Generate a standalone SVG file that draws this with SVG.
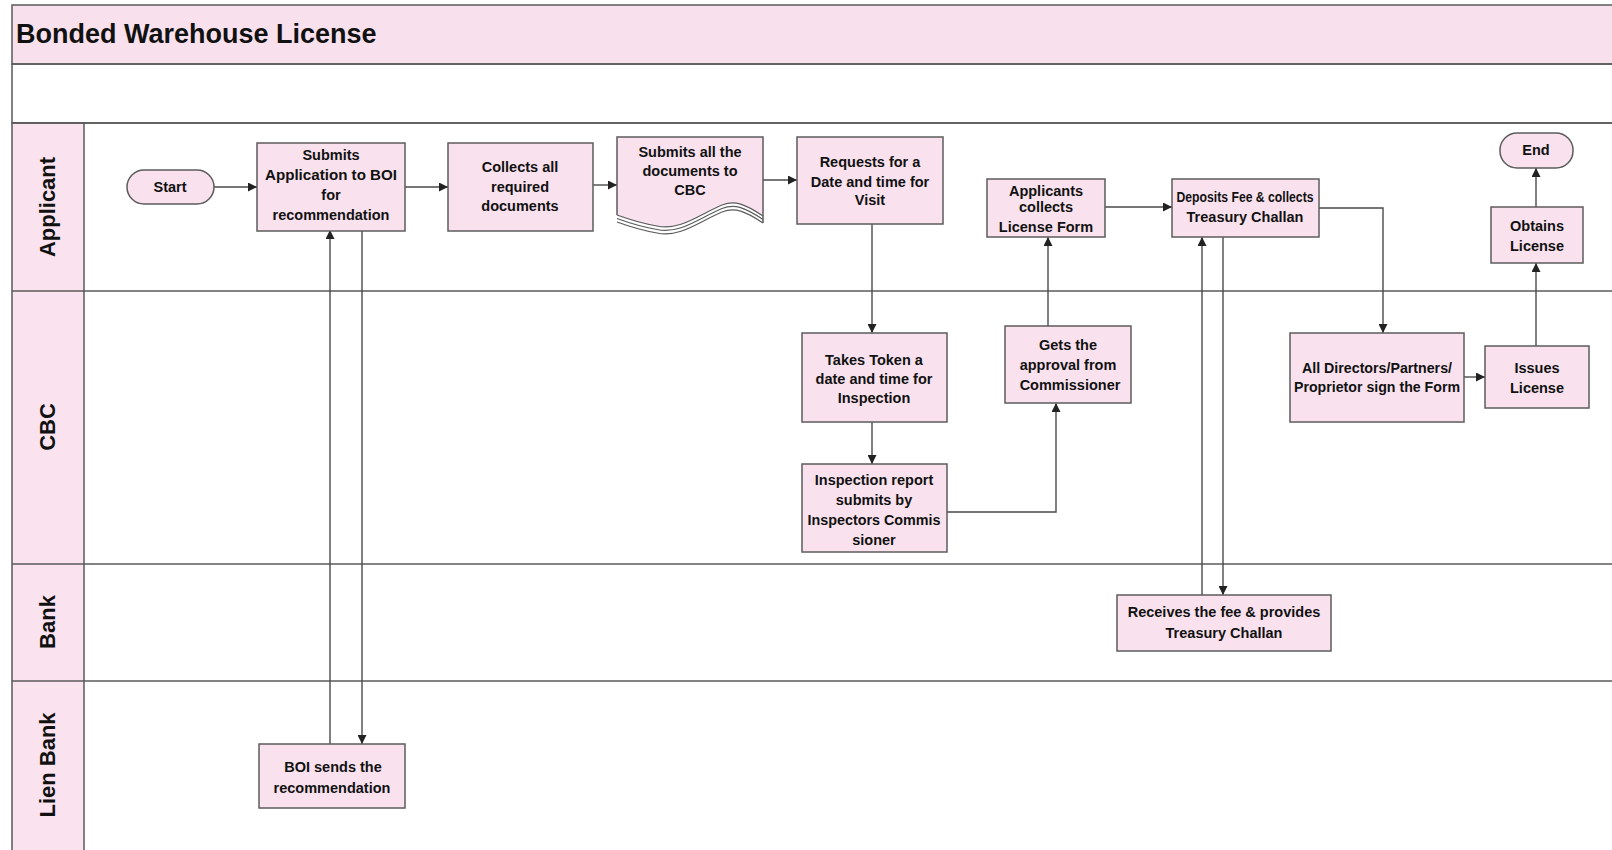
<svg xmlns="http://www.w3.org/2000/svg" width="1612" height="850" viewBox="0 0 1612 850">
<style>
.frame{fill:none;stroke:#5a5a5a;stroke-width:1.5}
.band{fill:#f8e1ed;stroke:#5a5a5a;stroke-width:1.5}
.lanecol{fill:#fae3ef;stroke:#5a5a5a;stroke-width:1.5}
.sep{stroke:#5a5a5a;stroke-width:1.5;fill:none}
.box{fill:#f9e2ee;stroke:#5c5c5c;stroke-width:1.5}
.docfill{fill:#f9e2ee;stroke:none}
.docedge{fill:none;stroke:#5c5c5c;stroke-width:1.5}
.t{font-family:"Liberation Sans",Arial,sans-serif;font-weight:bold;font-size:14.5px;fill:#111;text-anchor:middle}
.lane{font-family:"Liberation Sans",Arial,sans-serif;font-weight:bold;font-size:22px;fill:#111;text-anchor:middle}
.title{font-family:"Liberation Sans",Arial,sans-serif;font-weight:bold;font-size:27px;fill:#111}
.c{fill:none;stroke:#4a4a4a;stroke-width:1.4}
.w{fill:none;stroke:#5c5c5c;stroke-width:1.2}
</style>
<defs>
<marker id="arr" viewBox="0 0 10 10" refX="10" refY="5" markerWidth="9" markerHeight="9" markerUnits="userSpaceOnUse" orient="auto">
<path d="M0,0 L10,5 L0,10 Z" fill="#222"/>
</marker>
</defs>
<rect width="1612" height="850" fill="#ffffff"/>
<g id="frame">
<rect class="band" x="12" y="5" width="1610" height="59"/>
<rect class="frame" x="12" y="64" width="1610" height="59"/>
<rect class="lanecol" x="12" y="123" width="72" height="740"/>
<line class="sep" x1="12" y1="123" x2="1612" y2="123"/>
<line class="sep" x1="12" y1="291" x2="1612" y2="291"/>
<line class="sep" x1="12" y1="564" x2="1612" y2="564"/>
<line class="sep" x1="12" y1="681" x2="1612" y2="681"/>
<text class="title" x="16" y="43">Bonded Warehouse License</text>
<text class="lane" transform="translate(55,207) rotate(-90)">Applicant</text>
<text class="lane" transform="translate(55,427) rotate(-90)">CBC</text>
<text class="lane" transform="translate(55,622) rotate(-90)">Bank</text>
<text class="lane" transform="translate(55,765) rotate(-90)">Lien Bank</text>
</g>
<g id="connectors">
<path class="c" d="M214,187 H257" marker-end="url(#arr)"/>
<path class="c" d="M405,187 H448" marker-end="url(#arr)"/>
<path class="c" d="M593,185 H617" marker-end="url(#arr)"/>
<path class="c" d="M763,180 H797" marker-end="url(#arr)"/>
<path class="c" d="M872,224 V333" marker-end="url(#arr)"/>
<path class="c" d="M872,422 V464" marker-end="url(#arr)"/>
<path class="c" d="M947,512 H1056 V403" marker-end="url(#arr)"/>
<path class="c" d="M1048,326 V237" marker-end="url(#arr)"/>
<path class="c" d="M1105,207 H1172" marker-end="url(#arr)"/>
<path class="c" d="M1223,237 V595" marker-end="url(#arr)"/>
<path class="c" d="M1202,595 V237" marker-end="url(#arr)"/>
<path class="c" d="M1319,208 H1383 V333" marker-end="url(#arr)"/>
<path class="c" d="M1464,377 H1485" marker-end="url(#arr)"/>
<path class="c" d="M1536,346 V263" marker-end="url(#arr)"/>
<path class="c" d="M1536,207 V168" marker-end="url(#arr)"/>
<path class="c" d="M330,744 V230" marker-end="url(#arr)"/>
<path class="c" d="M362,230 V744" marker-end="url(#arr)"/>
</g>
<g id="start">
<rect class="box" x="127" y="170" width="87" height="34" rx="17"/>
<text class="t" x="170" y="192">Start</text>
</g>
<g id="submits-application">
<rect class="box" x="257" y="143" width="148" height="88"/>
<text class="t" x="331" y="160">Submits</text>
<text class="t" x="331" y="180" textLength="132" lengthAdjust="spacingAndGlyphs">Application to BOI</text>
<text class="t" x="331" y="200">for</text>
<text class="t" x="331" y="220">recommendation</text>
</g>
<g id="collects-documents">
<rect class="box" x="448" y="143" width="145" height="88"/>
<text class="t" x="520" y="172">Collects all</text>
<text class="t" x="520" y="192">required</text>
<text class="t" x="520" y="211">documents</text>
</g>
<g id="submits-documents">
<path class="docfill" d="M617,137 H763 V216 C745,204 735,200 722,205 C700,214 680,231 657,226 C640,223 628,219 617,215 Z"/>
<path class="docedge" d="M617,215 V137 H763 V223"/>
<path class="w" d="M617,215 C628,219 640,223 657,226 C680,231 700,214 722,205 C735,200 745,204 763,216"/>
<path class="w" d="M617,218.5 C628,222.5 640,226.5 657,229.5 C680,234.5 700,217.5 722,208.5 C735,203.5 745,207.5 763,219.5"/>
<path class="w" d="M617,222 C628,226 640,230 657,233 C680,238 700,221 722,212 C735,207 745,211 763,223"/>
<text class="t" x="690" y="157">Submits all the</text>
<text class="t" x="690" y="176">documents to</text>
<text class="t" x="690" y="195">CBC</text>
</g>
<g id="requests-date">
<rect class="box" x="797" y="137" width="146" height="87"/>
<text class="t" x="870" y="167">Requests for a</text>
<text class="t" x="870" y="187">Date and time for</text>
<text class="t" x="870" y="205">Visit</text>
</g>
<g id="applicants-collects">
<rect class="box" x="987" y="179" width="118" height="58"/>
<text class="t" x="1046" y="196">Applicants</text>
<text class="t" x="1046" y="212">collects</text>
<text class="t" x="1046" y="232">License Form</text>
</g>
<g id="deposits-fee">
<rect class="box" x="1172" y="179" width="147" height="58"/>
<text class="t" x="1245" y="202" textLength="137" lengthAdjust="spacingAndGlyphs">Deposits Fee &amp; collects</text>
<text class="t" x="1245" y="222">Treasury Challan</text>
</g>
<g id="end">
<rect class="box" x="1500" y="133" width="73" height="35" rx="17"/>
<text class="t" x="1536" y="155">End</text>
</g>
<g id="obtains-license">
<rect class="box" x="1491" y="207" width="92" height="56"/>
<text class="t" x="1537" y="231">Obtains</text>
<text class="t" x="1537" y="251">License</text>
</g>
<g id="takes-token">
<rect class="box" x="802" y="333" width="145" height="89"/>
<text class="t" x="874" y="365">Takes Token a</text>
<text class="t" x="874" y="384">date and time for</text>
<text class="t" x="874" y="403">Inspection</text>
</g>
<g id="inspection-report">
<rect class="box" x="802" y="464" width="145" height="88"/>
<text class="t" x="874" y="485">Inspection report</text>
<text class="t" x="874" y="505">submits by</text>
<text class="t" x="874" y="525" textLength="133" lengthAdjust="spacingAndGlyphs">Inspectors Commis</text>
<text class="t" x="874" y="545">sioner</text>
</g>
<g id="gets-approval">
<rect class="box" x="1005" y="326" width="126" height="77"/>
<text class="t" x="1068" y="350">Gets the</text>
<text class="t" x="1068" y="370">approval from</text>
<text class="t" x="1070" y="390">Commissioner</text>
</g>
<g id="directors-sign">
<rect class="box" x="1290" y="333" width="174" height="89"/>
<text class="t" x="1377" y="373" textLength="150" lengthAdjust="spacingAndGlyphs">All Directors/Partners/</text>
<text class="t" x="1377" y="392" textLength="166" lengthAdjust="spacingAndGlyphs">Proprietor sign the Form</text>
</g>
<g id="issues-license">
<rect class="box" x="1485" y="346" width="104" height="62"/>
<text class="t" x="1537" y="373">Issues</text>
<text class="t" x="1537" y="393">License</text>
</g>
<g id="receives-fee">
<rect class="box" x="1117" y="595" width="214" height="56"/>
<text class="t" x="1224" y="617">Receives the fee &amp; provides</text>
<text class="t" x="1224" y="638">Treasury Challan</text>
</g>
<g id="boi-sends">
<rect class="box" x="259" y="744" width="146" height="64"/>
<text class="t" x="333" y="772">BOI sends the</text>
<text class="t" x="332" y="793">recommendation</text>
</g>
</svg>
